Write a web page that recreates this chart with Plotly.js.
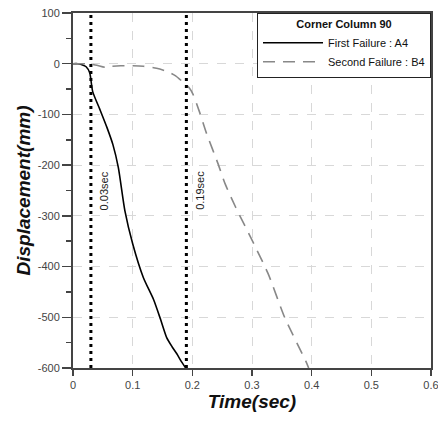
<!DOCTYPE html>
<html>
<head>
<meta charset="utf-8">
<script src="https://cdn.plot.ly/plotly-3.0.1.min.js"></script>
<style>html,body{margin:0;padding:0;background:#fff;}#chart{width:438px;height:421px;}</style>
</head>
<body>
<div id="chart"></div>
<script>
const firstTime = [0, 0.008, 0.015, 0.022, 0.028, 0.033, 0.045, 0.057, 0.067, 0.076, 0.087, 0.1, 0.118, 0.135, 0.147, 0.157, 0.166, 0.174, 0.182, 0.189];
const firstDisp = [0, 0, -2, -6, -18, -55, -90, -126, -160, -205, -290, -355, -422, -465, -505, -540, -558, -572, -588, -600];
const secondTime = [0, 0.01, 0.02, 0.03, 0.04, 0.054, 0.065, 0.08, 0.1, 0.118, 0.14, 0.157, 0.172, 0.185, 0.195, 0.201, 0.212, 0.224, 0.243, 0.255, 0.273, 0.298, 0.327, 0.355, 0.39, 0.395];
const secondDisp = [0, 0, 0, -1, -3, -7, -5, -4, -4, -5, -9, -15, -24, -37, -48, -60, -95, -138, -197, -237, -284, -343, -414, -501, -586, -600];
const failureTimes = [0.03, 0.19];
const failureLabels = ['0.03sec', '0.19sec'];
const seriesNames = ['First Failure : A4', 'Second Failure : B4'];
const legendTitle = 'Corner Column 90';
const yRange = [-600, 100];
const yTickVals = [-600, -500, -400, -300, -200, -100, 0, 100];
const yTickText = ['-600', '-500', '-400', '-300', '-200', '-100', '0', '100'];
const xTickVals = [0, 0.1, 0.2, 0.3, 0.4, 0.5, 0.6];
const xTickText = ['0', '0.1', '0.2', '0.3', '0.4', '0.5', '0.6'];

const traces = [
  {x: firstTime, y: firstDisp, mode: 'lines', name: seriesNames[0], line: {color: '#000', width: 1.6, shape: 'spline', smoothing: 0.6}},
  {x: secondTime, y: secondDisp, mode: 'lines', name: seriesNames[1], line: {color: '#888', width: 1.6, dash: '12px,8px', shape: 'spline', smoothing: 0.6}}
];
failureTimes.forEach(t => traces.push({
  x: [t, t], y: yRange, mode: 'lines', showlegend: false, hoverinfo: 'skip',
  line: {color: '#000', width: 3, dash: '3px,4px'}
}));

const annotations = failureTimes.map((t, i) => ({
  x: t, y: -250, xref: 'x', yref: 'y', text: failureLabels[i], textangle: -90,
  showarrow: false, xanchor: 'left', yanchor: 'middle', xshift: 5,
  font: {family: 'Liberation Sans, Arial, sans-serif', size: 11, color: '#222'}
}));

const layout = {
  width: 438, height: 421,
  margin: {l: 73, r: 7, t: 13, b: 53},
  paper_bgcolor: '#fff', plot_bgcolor: '#fff',
  font: {family: 'Liberation Sans, Arial, sans-serif', color: '#333'},
  xaxis: {
    range: [0, 0.6], tickmode: 'array', tickvals: xTickVals, ticktext: xTickText,
    ticks: 'outside', ticklen: 6, tickwidth: 1.5, tickcolor: '#444', ticklabeloverflow: 'allow',
    showline: true, linecolor: '#444', linewidth: 2, mirror: true,
    showgrid: true, gridcolor: '#d8d8d8', griddash: 'dash', gridwidth: 1, zeroline: false,
    tickfont: {size: 11, color: '#444'},
    title: {text: '<b><i>Time(sec)</i></b>', font: {size: 19, color: '#111'}, standoff: 4}
  },
  yaxis: {
    range: yRange, tickmode: 'array', tickvals: yTickVals, ticktext: yTickText,
    ticks: 'outside', ticklen: 9, tickwidth: 1.5, tickcolor: '#444',
    minor: {dtick: 50, tick0: 0, ticks: 'outside', ticklen: 5, tickcolor: '#444', showgrid: false},
    showline: true, linecolor: '#444', linewidth: 2, mirror: true,
    showgrid: true, gridcolor: '#d8d8d8', griddash: 'dash', gridwidth: 1, zeroline: false,
    tickfont: {size: 11, color: '#444'},
    title: {text: '<b><i>Displacement(mm)</i></b>', font: {size: 19, color: '#111'}, standoff: 2}
  },
  legend: {
    x: 1, xanchor: 'right', y: 1, yanchor: 'top',
    bgcolor: '#fff', bordercolor: '#222', borderwidth: 1,
    font: {size: 11, color: '#111'},
    title: {text: '<b>' + legendTitle + '</b>', side: 'top center', font: {size: 11, color: '#111'}},
    tracegroupgap: 0, itemwidth: 60
  },
  annotations: annotations,
  showlegend: true
};

Plotly.newPlot('chart', traces, layout, {displayModeBar: false, staticPlot: true});
</script>
</body>
</html>
